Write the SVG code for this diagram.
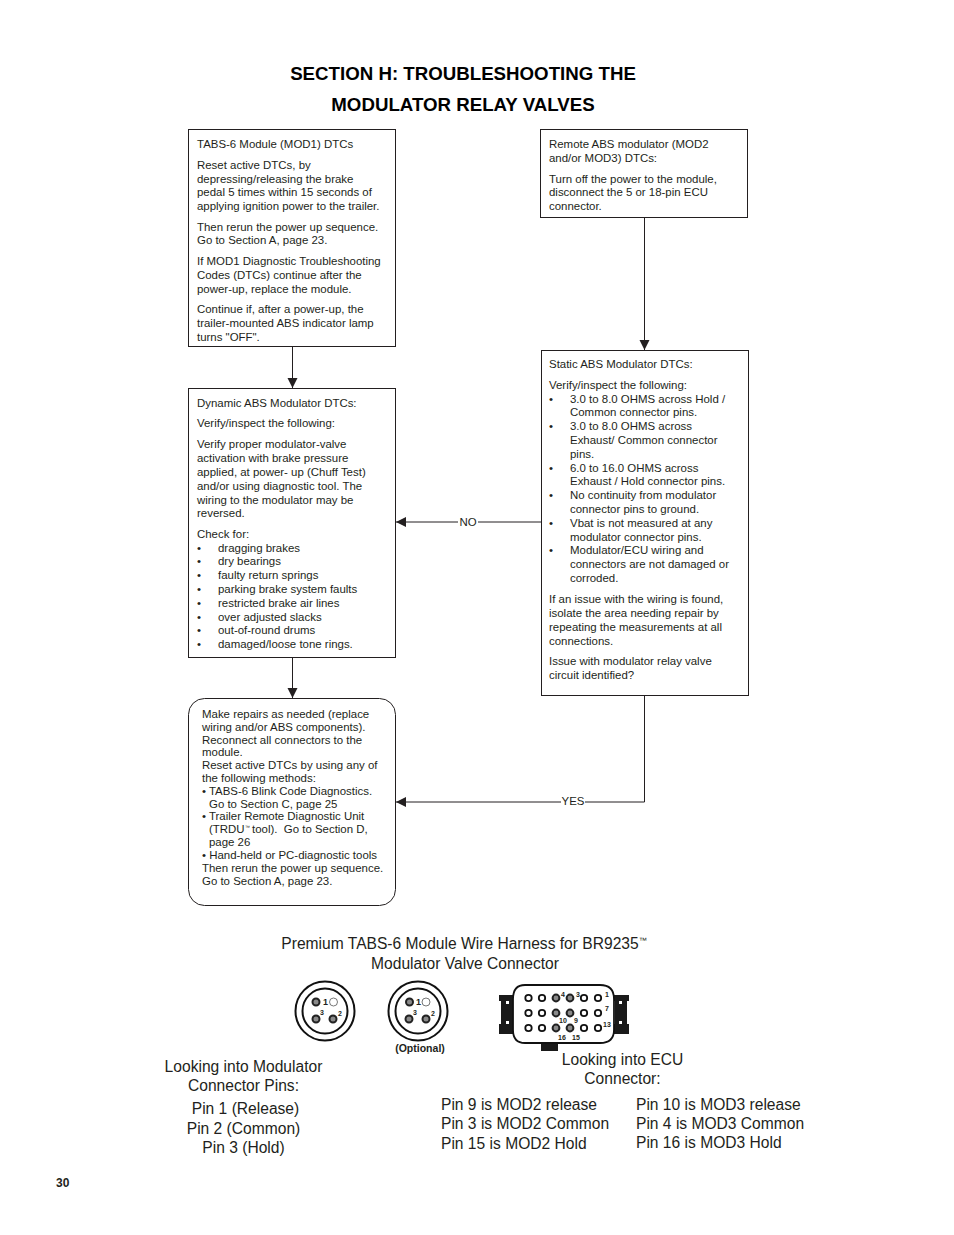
<svg xmlns="http://www.w3.org/2000/svg" width="954" height="1235" viewBox="0 0 954 1235">
<style>
text{font-family:"Liberation Sans",Arial,sans-serif;fill:#231f20}
.b{font-size:11.45px}
.box{fill:#fff;stroke:#231f20;stroke-width:1}
.c{fill:none;stroke:#231f20;stroke-width:1}
.t{font-size:18.7px;font-weight:bold;text-anchor:middle;fill:#000}
.h{font-size:15.6px}
.m{text-anchor:middle}
.ring{fill:#fff;stroke:#111;stroke-width:2}
.pin{fill:#8a8a8a;stroke:#222;stroke-width:2}
.hole{fill:#fff;stroke:#111;stroke-width:1.8}
.n{font-size:7px;font-weight:bold}
.n1{font-size:9px;font-weight:bold}
.blk{fill:#1a1a1a}
</style>
<defs><marker id="a" markerWidth="11" markerHeight="11" refX="10" refY="5" orient="auto" markerUnits="userSpaceOnUse"><path d="M0 0L10 5L0 10z" fill="#231f20"/></marker></defs>
<rect width="954" height="1235" fill="#fff"/>
<text class="t" x="463" y="80">SECTION H: TROUBLESHOOTING THE</text>
<text class="t" x="463" y="111">MODULATOR RELAY VALVES</text>
<g id="connectors">
<path class="c" d="M292.500 347V388" marker-end="url(#a)"/>
<path class="c" d="M644.500 217V350" marker-end="url(#a)"/>
<path class="c" d="M292.500 657V698" marker-end="url(#a)"/>
<path class="c" d="M458 522H396" marker-end="url(#a)"/>
<path class="c" d="M478 522H541"/>
<path class="c" d="M644.500 695V802H585"/>
<path class="c" d="M561 802H396" marker-end="url(#a)"/>
<text class="b" x="468" y="526" text-anchor="middle">NO</text>
<text class="b" x="573" y="805" text-anchor="middle">YES</text>
</g>
<g id="node-mod1"><rect class="box" x="188.500" y="129.500" width="207" height="217"/>
<text class="b" x="197" y="148">TABS-6 Module (MOD1) DTCs</text>
<text class="b" x="197" y="169">Reset active DTCs, by</text>
<text class="b" x="197" y="183">depressing/releasing the brake</text>
<text class="b" x="197" y="196">pedal 5 times within 15 seconds of</text>
<text class="b" x="197" y="210">applying ignition power to the trailer.</text>
<text class="b" x="197" y="231">Then rerun the power up sequence.</text>
<text class="b" x="197" y="244">Go to Section A, page 23.</text>
<text class="b" x="197" y="265">If MOD1 Diagnostic Troubleshooting</text>
<text class="b" x="197" y="279">Codes (DTCs) continue after the</text>
<text class="b" x="197" y="293">power-up, replace the module.</text>
<text class="b" x="197" y="313">Continue if, after a power-up, the</text>
<text class="b" x="197" y="327">trailer-mounted ABS indicator lamp</text>
<text class="b" x="197" y="341">turns "OFF".</text></g>
<g id="node-remote"><rect class="box" x="540.500" y="129.500" width="207" height="88"/>
<text class="b" x="549" y="148">Remote ABS modulator (MOD2</text>
<text class="b" x="549" y="162">and/or MOD3) DTCs:</text>
<text class="b" x="549" y="183">Turn off the power to the module,</text>
<text class="b" x="549" y="196">disconnect the 5 or 18-pin ECU</text>
<text class="b" x="549" y="210">connector.</text></g>
<g id="node-dynamic"><rect class="box" x="188.500" y="388.500" width="207" height="269"/>
<text class="b" x="197" y="407">Dynamic ABS Modulator DTCs:</text>
<text class="b" x="197" y="427">Verify/inspect the following:</text>
<text class="b" x="197" y="448">Verify proper modulator-valve</text>
<text class="b" x="197" y="462">activation with brake pressure</text>
<text class="b" x="197" y="476">applied, at power- up (Chuff Test)</text>
<text class="b" x="197" y="490">and/or using diagnostic tool. The</text>
<text class="b" x="197" y="504">wiring to the modulator may be</text>
<text class="b" x="197" y="517">reversed.</text>
<text class="b" x="197" y="538">Check for:</text>
<text class="b" x="197" y="552">•</text><text class="b" x="218" y="552">dragging brakes</text>
<text class="b" x="197" y="565">•</text><text class="b" x="218" y="565">dry bearings</text>
<text class="b" x="197" y="579">•</text><text class="b" x="218" y="579">faulty return springs</text>
<text class="b" x="197" y="593">•</text><text class="b" x="218" y="593">parking brake system faults</text>
<text class="b" x="197" y="607">•</text><text class="b" x="218" y="607">restricted brake air lines</text>
<text class="b" x="197" y="621">•</text><text class="b" x="218" y="621">over adjusted slacks</text>
<text class="b" x="197" y="634">•</text><text class="b" x="218" y="634">out-of-round drums</text>
<text class="b" x="197" y="648">•</text><text class="b" x="218" y="648">damaged/loose tone rings.</text></g>
<g id="node-static"><rect class="box" x="541.500" y="350.500" width="207" height="345"/>
<text class="b" x="549" y="368">Static ABS Modulator DTCs:</text>
<text class="b" x="549" y="389">Verify/inspect the following:</text>
<text class="b" x="549" y="403">•</text><text class="b" x="570" y="403">3.0 to 8.0 OHMS across Hold /</text>
<text class="b" x="570" y="416">Common connector pins.</text>
<text class="b" x="549" y="430">•</text><text class="b" x="570" y="430">3.0 to 8.0 OHMS across</text>
<text class="b" x="570" y="444">Exhaust/ Common connector</text>
<text class="b" x="570" y="458">pins.</text>
<text class="b" x="549" y="472">•</text><text class="b" x="570" y="472">6.0 to 16.0 OHMS across</text>
<text class="b" x="570" y="485">Exhaust / Hold connector pins.</text>
<text class="b" x="549" y="499">•</text><text class="b" x="570" y="499">No continuity from modulator</text>
<text class="b" x="570" y="513">connector pins to ground.</text>
<text class="b" x="549" y="527">•</text><text class="b" x="570" y="527">Vbat is not measured at any</text>
<text class="b" x="570" y="541">modulator connector pins.</text>
<text class="b" x="549" y="554">•</text><text class="b" x="570" y="554">Modulator/ECU wiring and</text>
<text class="b" x="570" y="568">connectors are not damaged or</text>
<text class="b" x="570" y="582">corroded.</text>
<text class="b" x="549" y="603">If an issue with the wiring is found,</text>
<text class="b" x="549" y="617">isolate the area needing repair by</text>
<text class="b" x="549" y="631">repeating the measurements at all</text>
<text class="b" x="549" y="645">connections.</text>
<text class="b" x="549" y="665">Issue with modulator relay valve</text>
<text class="b" x="549" y="679">circuit identified?</text></g>
<g id="node-repairs"><rect class="box" x="188.500" y="698.500" width="207" height="207" rx="16"/>
<text class="b" x="202" y="718">Make repairs as needed (replace</text>
<text class="b" x="202" y="731">wiring and/or ABS components).</text>
<text class="b" x="202" y="744">Reconnect all connectors to the</text>
<text class="b" x="202" y="756">module.</text>
<text class="b" x="202" y="769">Reset active DTCs by using any of</text>
<text class="b" x="202" y="782">the following methods:</text>
<text class="b" x="202" y="795">• TABS-6 Blink Code Diagnostics.</text>
<text class="b" x="209" y="808">Go to Section C, page 25</text>
<text class="b" x="202" y="820">• Trailer Remote Diagnostic Unit</text>
<text class="b" x="209" y="833">(TRDU</text><text x="245" y="829" font-size="5">™</text><text class="b" x="252" y="833" xml:space="preserve">tool).  Go to Section D,</text>
<text class="b" x="209" y="846">page 26</text>
<text class="b" x="202" y="859">• Hand-held or PC-diagnostic tools</text>
<text class="b" x="202" y="872">Then rerun the power up sequence.</text>
<text class="b" x="202" y="885">Go to Section A, page 23.</text></g>
<text class="h m" x="464" y="949">Premium TABS-6 Module Wire Harness for BR9235<tspan font-size="8" dy="-6">™</tspan></text>
<text class="h m" x="465" y="969">Modulator Valve Connector</text>
<g id="connector-a">
<circle class="ring" cx="325" cy="1011" r="29.500"/><circle class="ring" cx="325" cy="1011" r="22.500"/>
<circle class="pin" cx="316" cy="1002" r="3.500"/><circle cx="333.500" cy="1002" r="4" fill="#fff" stroke="#555" stroke-width=".8"/>
<circle class="pin" cx="316" cy="1019" r="3.500"/><circle class="pin" cx="333" cy="1019" r="3.500"/>
<text class="n1" x="323" y="1005">1</text><text class="n" x="320" y="1015">3</text><text class="n" x="338" y="1016">2</text>
</g>
<g id="connector-b">
<circle class="ring" cx="418" cy="1011" r="29.500"/><circle class="ring" cx="418" cy="1011" r="22.500"/>
<circle class="pin" cx="409.500" cy="1002" r="3.500"/><circle cx="426" cy="1002" r="4" fill="#fff" stroke="#555" stroke-width=".8"/>
<circle class="pin" cx="409" cy="1019" r="3.500"/><circle class="pin" cx="426" cy="1019" r="3.500"/>
<text class="n1" x="416" y="1005">1</text><text class="n" x="413" y="1015">3</text><text class="n" x="431" y="1016">2</text>
<text x="420" y="1052" text-anchor="middle" font-size="11.700" font-weight="bold" transform="translate(42 0) scale(.9 1)">(Optional)</text>
</g>
<g id="connector-ecu">
<path class="blk" d="M499 995H515V1001H513V1024H515V1034H499V1024H501V1001H499zM613 995H629V1001H627V1024H629V1034H613V1024H615V1001H613zM541 1041H558V1051H541z"/>
<path d="M506 1001h3v3h-3zM506 1021h3v3h-3zM619 1001h3v3h-3zM619 1021h3v3h-3z" fill="#fff"/>
<path d="M525 985H600Q614 985 614 999V1030Q614 1043 600 1043H525Q513 1043 513 1030V999Q513 985 525 985z" fill="#fff" stroke="#111" stroke-width="1.800"/>
<circle class="hole" cx="528.500" cy="998" r="3.200"/><circle class="hole" cx="542" cy="998" r="3.200"/><circle class="hole" cx="584" cy="998" r="3.200"/><circle class="hole" cx="598" cy="998" r="3.200"/>
<circle class="hole" cx="528.500" cy="1013" r="3.200"/><circle class="hole" cx="542" cy="1013" r="3.200"/><circle class="hole" cx="584" cy="1013" r="3.200"/><circle class="hole" cx="598" cy="1013" r="3.200"/>
<circle class="hole" cx="528.500" cy="1028" r="3.200"/><circle class="hole" cx="542" cy="1028" r="3.200"/><circle class="hole" cx="584" cy="1028" r="3.200"/><circle class="hole" cx="598" cy="1028" r="3.200"/>
<circle class="pin" cx="556" cy="998" r="3.400"/><circle class="pin" cx="570" cy="998" r="3.400"/><circle class="pin" cx="556" cy="1013" r="3.400"/><circle class="pin" cx="570" cy="1013" r="3.400"/><circle class="pin" cx="556" cy="1028" r="3.400"/><circle class="pin" cx="570" cy="1028" r="3.400"/>
<text class="n" x="561" y="997">4</text><text class="n" x="576" y="997">3</text><text class="n" x="605" y="997">1</text><text class="n" x="605" y="1011">7</text><text class="n" x="603" y="1027">13</text>
<text class="n" x="559" y="1023">10</text><text class="n" x="574" y="1023">9</text><text class="n" x="558" y="1040">16</text><text class="n" x="572" y="1040">15</text>
</g>
<text class="h m" x="243.500" y="1072">Looking into Modulator</text>
<text class="h m" x="243.500" y="1091">Connector Pins:</text>
<text class="h m" x="245.500" y="1114">Pin 1 (Release)</text>
<text class="h m" x="243.500" y="1134">Pin 2 (Common)</text>
<text class="h m" x="243.500" y="1153">Pin 3 (Hold)</text>
<text class="h m" x="622.500" y="1065">Looking into ECU</text>
<text class="h m" x="622.500" y="1084">Connector:</text>
<text class="h" x="441" y="1110">Pin 9 is MOD2 release</text>
<text class="h" x="441" y="1129">Pin 3 is MOD2 Common</text>
<text class="h" x="441" y="1149">Pin 15 is MOD2 Hold</text>
<text class="h" x="636" y="1110">Pin 10 is MOD3 release</text>
<text class="h" x="636" y="1129">Pin 4 is MOD3 Common</text>
<text class="h" x="636" y="1148">Pin 16 is MOD3 Hold</text>
<text x="56" y="1187" font-size="12" font-weight="bold">30</text>
</svg>
